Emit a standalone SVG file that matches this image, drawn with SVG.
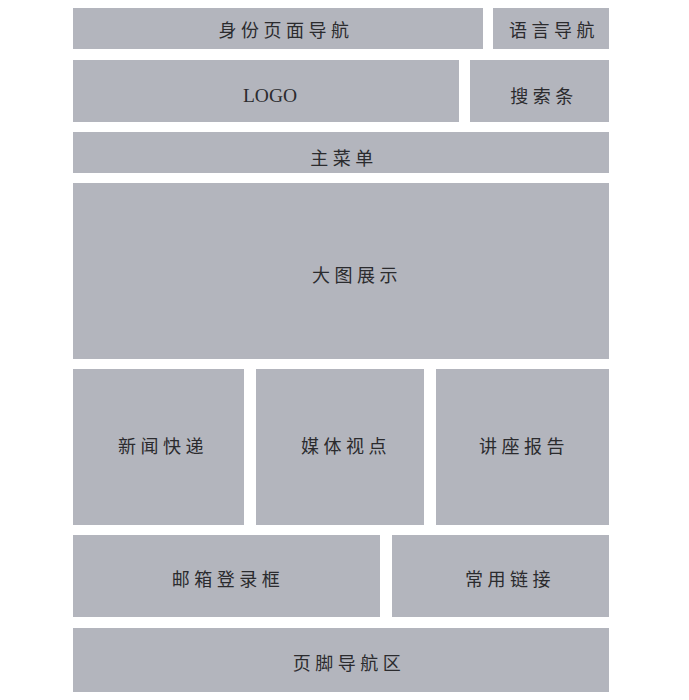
<svg xmlns="http://www.w3.org/2000/svg" width="689" height="700" viewBox="0 0 689 700">
<style>
.box{fill:#b3b5bd;}
.t{font-family:"Noto Sans CJK SC","Noto Sans CJK TC",sans-serif;font-size:18px;letter-spacing:4.5px;fill:#2b2b2e;text-anchor:middle;dominant-baseline:central;}
.l{font-family:"Liberation Serif",serif;font-size:19.5px;fill:#2b2b2e;text-anchor:middle;dominant-baseline:central;}
</style>
<rect width="689" height="700" fill="#ffffff"/>
<g id="identity-nav"><rect class="box" x="73" y="8" width="410" height="41"/><text class="t" x="286" y="29">身份页面导航</text></g>
<g id="language-nav"><rect class="box" x="493" y="8" width="116" height="41"/><text class="t" x="554" y="29">语言导航</text></g>
<g id="logo"><rect class="box" x="73" y="60" width="386" height="62"/><text class="l" x="270" y="95">LOGO</text></g>
<g id="search"><rect class="box" x="470" y="60" width="139" height="62"/><text class="t" x="544" y="95">搜索条</text></g>
<g id="main-menu"><rect class="box" x="73" y="132" width="536" height="41"/><text class="t" x="344" y="157">主菜单</text></g>
<g id="banner"><rect class="box" x="73" y="183" width="536" height="176"/><text class="t" x="357" y="274">大图展示</text></g>
<g id="news"><rect class="box" x="73" y="369" width="171" height="156"/><text class="t" x="163" y="445">新闻快递</text></g>
<g id="media"><rect class="box" x="256" y="369" width="168" height="156"/><text class="t" x="346" y="445">媒体视点</text></g>
<g id="lectures"><rect class="box" x="436" y="369" width="173" height="156"/><text class="t" x="524" y="445">讲座报告</text></g>
<g id="mail-login"><rect class="box" x="73" y="535" width="307" height="82"/><text class="t" x="228" y="578">邮箱登录框</text></g>
<g id="links"><rect class="box" x="392" y="535" width="217" height="82"/><text class="t" x="510" y="578">常用链接</text></g>
<g id="footer-nav"><rect class="box" x="73" y="628" width="536" height="64"/><text class="t" x="349" y="662">页脚导航区</text></g>
<g id="connectors"></g>
</svg>
